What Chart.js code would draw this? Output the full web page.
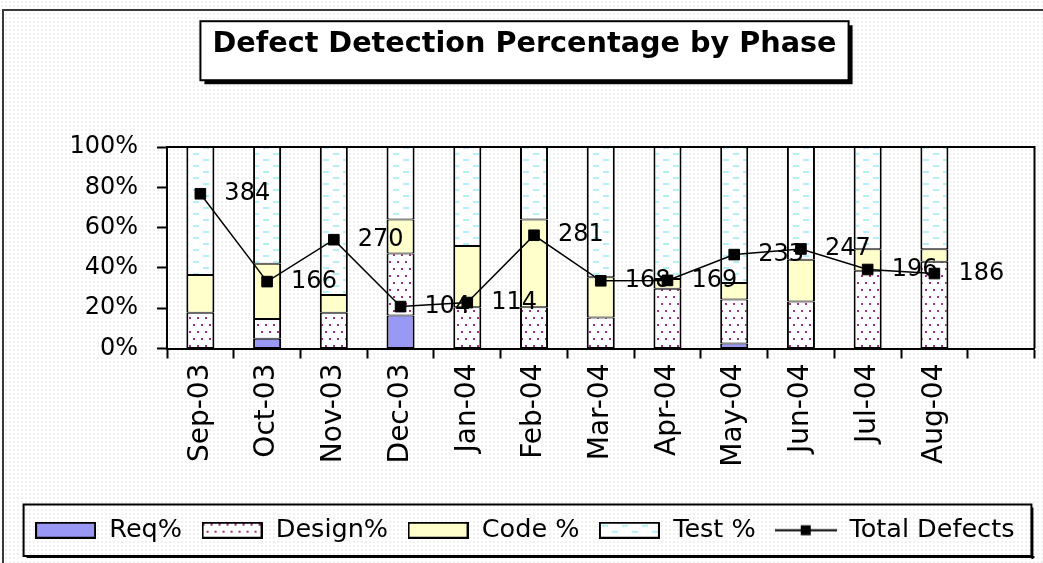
<!DOCTYPE html>
<html>
<head>
<meta charset="utf-8">
<script src="https://cdn.jsdelivr.net/npm/chart.js@4"></script>
<style>
	html, body {
		margin: 0;
		padding: 0;
		overflow: hidden;
		background: #fff radial-gradient(circle, #ececec 0.6px, transparent 1px) 0 0 / 4px 4px;
	}
	#c { display: block; }
</style>
</head>
<body>
<canvas id="c" width="1043" height="563"></canvas>
<script>
const months = ['Sep-03', 'Oct-03', 'Nov-03', 'Dec-03', 'Jan-04', 'Feb-04', 'Mar-04', 'Apr-04', 'May-04', 'Jun-04', 'Jul-04', 'Aug-04', ''];
const reqPct = [0, 4.9, 0, 16.4, 0, 0, 0, 0, 2.5, 0, 0, 0];
const designPct = [17.7, 9.7, 17.7, 30.7, 20.5, 20.5, 15.4, 29.6, 21.8, 23.3, 38.6, 43.0];
const codePct = [18.8, 27.4, 8.9, 16.9, 30.4, 43.5, 19.9, 4.9, 8.2, 20.7, 10.7, 6.3];
const testPct = [63.5, 58.0, 73.4, 36.0, 49.1, 36.0, 64.7, 65.5, 67.5, 56.0, 50.7, 50.7];
const totalDefects = [384, 166, 270, 104, 114, 281, 168, 169, 233, 247, 196, 186];
const yTicks = [0, 20, 40, 60, 80, 100];

const FONT = '"DejaVu Sans", "Liberation Sans", Arial, sans-serif';
const titleText = 'Defect Detection Percentage by Phase';
const TITLE_SIZE = 28.7;

// fill patterns like the old excel ones
const makeTile = (w, h, draw) => {
	const c = document.createElement('canvas');
	c.width = w; c.height = h;
	const g = c.getContext('2d');
	draw(g);
	return c;
};
const dotsTile = makeTile(8, 14, g => {
	g.fillStyle = '#fff';
	g.fillRect(0, 0, 8, 14);
	g.fillStyle = '#a3327a';
	g.fillRect(1, 2, 2, 2);
	g.fillRect(5, 9, 2, 2);
});
const dashTile = makeTile(20, 12, g => {
	g.fillStyle = '#fff';
	g.fillRect(0, 0, 20, 12);
	g.fillStyle = '#b4f0f8';
	g.fillRect(3, 3, 6, 2);
	g.fillRect(13, 9, 6, 2);
});

const ctx = document.getElementById('c').getContext('2d');
const reqFill = '#9999f5';
const designFill = ctx.createPattern(dotsTile, 'repeat');
const codeFill = '#ffffcc';
const testFill = ctx.createPattern(dashTile, 'repeat');

// legend swatches
const swatch = fill => makeTile(61, 17, g => {
	g.fillStyle = fill instanceof HTMLCanvasElement ? g.createPattern(fill, 'repeat') : fill;
	g.fillRect(1, 1, 59, 15);
	g.strokeStyle = '#000';
	g.lineWidth = 2;
	g.strokeRect(1, 1, 59, 15);
});
const lineSwatch = makeTile(62, 17, g => {
	g.strokeStyle = '#000';
	g.lineWidth = 2;
	g.beginPath();
	g.moveTo(0, 8.5);
	g.lineTo(62, 8.5);
	g.stroke();
	g.fillStyle = '#000';
	g.fillRect(26, 3.5, 10, 10);
});
const legendIcons = [swatch(reqFill), swatch(dotsTile), swatch(codeFill), swatch(dashTile), lineSwatch];

const boxes = {
	id: 'boxes',
	beforeDraw(chart) {
		const c = chart.ctx;
		c.save();
		// outer chart border
		c.fillStyle = '#3a3a3a';
		c.fillRect(3, 9, chart.width - 3, 2);
		c.fillRect(2, 9, 2, chart.height - 9);

		// title box with shadow
		const tb = chart.titleBlock;
		c.font = 'bold ' + TITLE_SIZE + 'px ' + FONT;
		const tw = c.measureText(titleText).width;
		const cx = (tb.left + tb.right) / 2,
			cy = tb.top + 27 + TITLE_SIZE * 0.6;
		const x0 = cx - tw / 2 - 12, y0 = cy - 23, w = tw + 24, h = 59;
		c.fillStyle = '#000';
		c.fillRect(x0 + 4, y0 + 4, w, h);
		c.fillStyle = '#fff';
		c.fillRect(x0, y0, w, h);
		c.strokeStyle = '#000';
		c.lineWidth = 2;
		c.strokeRect(x0, y0, w, h);

		// legend box
		const hb = chart.legend.legendHitBoxes;
		if (hb && hb.length) {
			const last = hb[hb.length - 1];
			const lx = hb[0].left - 11, ly = hb[0].top - 13,
				lw = last.left + last.width + 17 - lx, lh = hb[0].height + 26;
			c.fillStyle = '#000';
			c.fillRect(lx + 3, ly + lh, lw, 2);
			c.fillRect(lx + lw, ly + 3, 2, lh);
			c.strokeStyle = '#000';
			c.lineWidth = 2;
			c.strokeRect(lx, ly, lw, lh);
		}
		c.restore();
	},
	beforeDatasetsDraw(chart) {
		const a = chart.chartArea, c = chart.ctx;
		c.save();
		c.strokeStyle = '#000';
		c.lineWidth = 2;
		c.beginPath();
		c.moveTo(a.left, a.top);
		c.lineTo(a.right, a.top);
		c.lineTo(a.right, a.bottom);
		c.stroke();
		c.restore();
	},
	afterDatasetsDraw(chart) {
		const c = chart.ctx;
		const meta = chart.getDatasetMeta(4);
		c.save();
		c.font = '24px ' + FONT;
		c.fillStyle = '#000';
		c.textAlign = 'left';
		c.textBaseline = 'middle';
		meta.data.forEach((pt, i) => c.fillText(String(totalDefects[i]), pt.x + 24, pt.y));
		c.restore();
	}
};

const bar = (label, data, fill) => ({
	type: 'bar',
	label,
	data,
	backgroundColor: fill,
	borderColor: '#000',
	// sides 2px, top/bottom 1px so stacked joins come out 2px
	borderWidth: { left: 2, right: 2, top: 1, bottom: 1 },
	borderSkipped: false,
	barPercentage: 0.42,
	categoryPercentage: 1,
	yAxisID: 'y'
});

new Chart(ctx, {
	data: {
		labels: months,
		datasets: [
			bar('Req%', reqPct, reqFill),
			bar('Design%', designPct, designFill),
			bar('Code %', codePct, codeFill),
			bar('Test %', testPct, testFill),
			{
				type: 'line',
				label: 'Total Defects',
				data: totalDefects,
				yAxisID: 'y1',
				order: -1,
				borderColor: '#000',
				borderWidth: 1.5,
				pointStyle: 'rect',
				pointRadius: 7.5,
				pointBorderWidth: 1,
				pointBackgroundColor: '#000',
				pointBorderColor: '#000',
				tension: 0
			}
		]
	},
	options: {
		responsive: false,
		animation: false,
		layout: { padding: { left: 14, right: 8, top: 0, bottom: 10 } },
		scales: {
			x: {
				stacked: true,
				offset: true,
				grid: { offset: true, drawOnChartArea: false, tickLength: 10, tickColor: '#000', tickWidth: 2 },
				border: { color: '#000', width: 2 },
				ticks: {
					autoSkip: false,
					minRotation: 90,
					maxRotation: 90,
					padding: 5,
					color: '#000',
					font: { family: FONT, size: 28 }
				},
				afterFit: s => { s.height = 150; }
			},
			y: {
				stacked: true,
				min: 0,
				max: 100,
				afterBuildTicks: s => { s.ticks = yTicks.map(v => ({ value: v })); },
				grid: { drawOnChartArea: false, tickLength: 10, tickColor: '#000', tickWidth: 2 },
				border: { color: '#000', width: 2 },
				ticks: {
					autoSkip: false,
					padding: 19,
					color: '#000',
					font: { family: FONT, size: 24 },
					callback: v => v + '%'
				},
				afterFit: s => { s.width = 153; }
			},
			y1: {
				display: false,
				position: 'right',
				min: 0,
				max: 500
			}
		},
		plugins: {
			tooltip: { enabled: false },
			title: {
				display: true,
				text: titleText,
				color: '#000',
				font: { family: FONT, size: TITLE_SIZE, weight: 'bold', lineHeight: 1.2 },
				padding: { top: 27, bottom: 147 - 27 - TITLE_SIZE * 1.2 }
			},
			legend: {
				position: 'bottom',
				labels: {
					usePointStyle: true,
					pointStyleWidth: 62,
					padding: 19,
					color: '#000',
					font: { family: FONT, size: 25.5 },
					sort: (a, b) => a.datasetIndex - b.datasetIndex,
					generateLabels: chart => Chart.defaults.plugins.legend.labels.generateLabels(chart)
						.map(item => Object.assign(item, { pointStyle: legendIcons[item.datasetIndex] }))
				}
			}
		}
	},
	plugins: [boxes]
});
</script>
</body>
</html>
